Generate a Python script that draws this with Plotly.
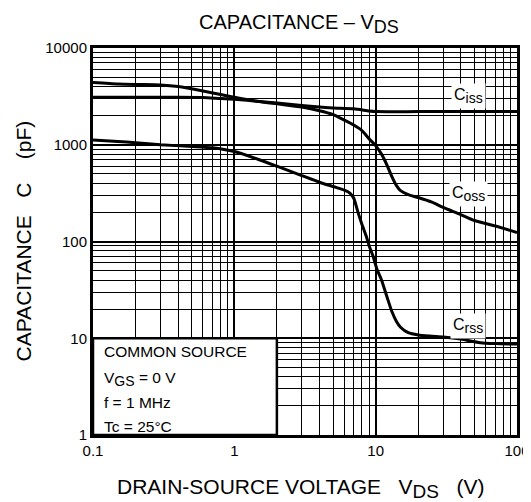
import plotly.graph_objects as go

# ---- data ----
ciss_v = [0.1, 0.2, 0.4, 0.6, 0.8, 1, 1.5, 2, 3, 4, 5, 7, 9, 10, 20, 50, 100]
ciss_c = [3100, 3100, 3100, 3080, 3000, 2950, 2800, 2700, 2550, 2450, 2400, 2350, 2230, 2200, 2200, 2200, 2200]

coss_v = [0.1, 0.15, 0.2, 0.3, 0.4, 0.6, 0.8, 1, 1.5, 2, 3, 4, 5, 6, 7, 8, 9, 10, 11, 12, 13, 14, 15, 17, 20, 25, 30, 40, 50, 70, 100]
coss_c = [4400, 4250, 4200, 4150, 4000, 3600, 3300, 3100, 2800, 2650, 2450, 2250, 2050, 1800, 1600, 1400, 1150, 980, 800, 620, 470, 380, 335, 305, 285, 255, 225, 190, 165, 145, 124]

crss_v = [0.1, 0.15, 0.2, 0.3, 0.5, 0.7, 1, 1.5, 2, 3, 4, 5, 6, 6.6, 7, 7.5, 8, 8.6, 9, 9.6, 10.2, 11, 12, 13, 14, 15, 17, 20, 25, 30, 40, 55, 70, 100]
crss_c = [1120, 1080, 1050, 1000, 960, 930, 850, 700, 600, 480, 410, 370, 340, 315, 280, 200, 150, 112, 90, 70, 52, 40, 27, 19, 15, 13, 11.4, 10.8, 10.5, 10.3, 9.8, 9.0, 8.8, 8.7]

x_tickvals = [0.1, 1, 10, 100]
x_ticktext = ["0.1", "1", "10", "100"]
y_tickvals = [1, 10, 100, 1000, 10000]
y_ticktext = ["1", "10", "100", "1000", "10000"]

FONT = "Liberation Sans, Arial, sans-serif"


def sub(t, px):
    return f"<sub><span style='font-size:{px}px'>{t}</span></sub>"


fig = go.Figure()
for v, c in [(ciss_v, ciss_c), (coss_v, coss_c), (crss_v, crss_c)]:
    fig.add_trace(go.Scatter(x=v, y=c, mode="lines",
                             line=dict(color="black", width=3, shape="spline", smoothing=0.6),
                             showlegend=False, hoverinfo="skip"))

axis_common = dict(
    type="log", showline=True, linecolor="black", linewidth=3, mirror=True,
    showgrid=True, gridcolor="black", gridwidth=2.2, ticks="", zeroline=False,
    automargin=False,
    tickfont=dict(family=FONT, size=15, color="black"),
    minor=dict(showgrid=True, gridcolor="black", gridwidth=1, dtick="D1", ticks=""),
)
fig.update_xaxes(range=[-1, 2], tickvals=x_tickvals, ticktext=x_ticktext, **axis_common)
fig.update_yaxes(range=[0, 4], tickvals=y_tickvals, ticktext=y_ticktext, ticklabelstandoff=0, **axis_common)

# Condition box (lower left), paper coords: x 0.1..2, y 1..10
box_x1 = (1 + 0.30103) / 3
fig.add_shape(type="rect", xref="paper", yref="paper", x0=0, x1=box_x1, y0=0, y1=0.25,
              fillcolor="white", line=dict(color="black", width=2.5), layer="above")

cond_lines = ["COMMON SOURCE", "V" + sub("GS", 14) + " = 0 V", "f = 1 MHz", "Tc = 25°C"]
cond_y = [0.2145, 0.145, 0.085, 0.023]
for t, yy in zip(cond_lines, cond_y):
    fig.add_annotation(text=t, xref="paper", yref="paper", x=0.022, y=yy, xanchor="left",
                       yanchor="middle", showarrow=False,
                       font=dict(family=FONT, size=15.5, color="black"))

# Curve labels (annotation x/y in log units)
labels = [("C" + sub("iss", 14), 1.654, 3.50), ("C" + sub("oss", 14), 1.654, 2.49),
          ("C" + sub("rss", 14), 1.654, 1.125)]
for t, lx, ly in labels:
    fig.add_annotation(text=t, x=lx, y=ly, xref="x", yref="y", showarrow=False,
                       bgcolor="white", borderpad=2,
                       font=dict(family=FONT, size=16, color="black"))

fig.add_annotation(text="CAPACITANCE – V" + sub("DS", 18), xref="paper", yref="paper",
                   x=0.485, y=1.0, yshift=24, yanchor="middle", showarrow=False,
                   font=dict(family=FONT, size=20, color="black"))
fig.add_annotation(text="DRAIN-SOURCE VOLTAGE   V" + sub("DS", 19) + "   (V)", xref="paper", yref="paper",
                   x=0.49, y=0, yshift=-53, yanchor="middle", showarrow=False,
                   font=dict(family=FONT, size=21, color="black"))
fig.add_annotation(text="CAPACITANCE   C    (pF)", xref="paper", yref="paper",
                   x=0, y=0.50, xshift=-70, xanchor="center", yanchor="middle",
                   textangle=-90, showarrow=False,
                   font=dict(family=FONT, size=21, color="black"))

fig.update_layout(width=523, height=494, margin=dict(l=85, r=14, t=40, b=67),
                  plot_bgcolor="white", paper_bgcolor="white")

fig.write_html("out.html")
